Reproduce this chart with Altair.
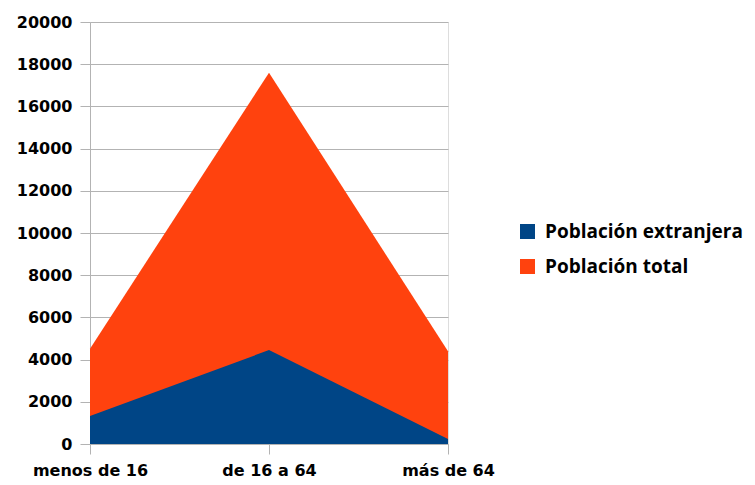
import altair as alt
import pandas as pd

categorias = ["menos de 16", "de 16 a 64", "más de 64"]
poblacion_total = [4520, 17600, 4390]
poblacion_extranjera = [1330, 4450, 240]
series = ["Población extranjera", "Población total"]
colores = ["#004586", "#ff420e"]
y_ticks = list(range(0, 20001, 2000))

rows = []
for c, t, e in zip(categorias, poblacion_total, poblacion_extranjera):
    rows.append({"cat": c, "serie": series[1], "valor": t})
    rows.append({"cat": c, "serie": series[0], "valor": e})
df = pd.DataFrame(rows)

grid = "#b3b3b3"
axfont = "DejaVu Sans"

x = alt.X("cat:N", sort=categorias, title=None,
          scale=alt.Scale(type="point", padding=0),
          axis=alt.Axis(labelAngle=0, labelFont=axfont, labelFontSize=16,
                        labelFontWeight="bold", labelColor="#000000",
                        tickSize=10, tickColor=grid, domainColor=grid,
                        labelPadding=8, grid=False))
y = alt.Y("valor:Q", title=None, stack=None,
          scale=alt.Scale(domain=[0, 20000], nice=False),
          axis=alt.Axis(values=y_ticks, labelFont=axfont, labelFontSize=16,
                        labelFontWeight="bold", labelColor="#000000",
                        tickSize=10, tickColor=grid, domainColor=grid,
                        gridColor=grid, labelPadding=8, format="d"))
color = alt.Color("serie:N", scale=alt.Scale(domain=series, range=colores),
                  legend=alt.Legend(title=None, orient="none", legendX=428, legendY=200,
                                    symbolType="square", symbolSize=225,
                                    symbolStrokeWidth=0, symbolOpacity=1,
                                    labelFont="Open Sans", labelFontSize=19,
                                    labelFontWeight="bold", labelColor="#000000",
                                    labelOffset=8, rowPadding=15, padding=0,
                                    labelLimit=400))

base = alt.Chart(df)
total = base.transform_filter(alt.datum.serie == series[1]).mark_area(opacity=1).encode(
    x=x, y=y, color=color)
ext = base.transform_filter(alt.datum.serie == series[0]).mark_area(opacity=1).encode(
    x=x, y=y, color=color)

chart = alt.layer(total, ext).properties(
    width=358, height=422,
    autosize=alt.AutoSizeParams(type="none"),
    padding={"left": 82, "top": 14, "right": 299, "bottom": 40},
).configure_view(stroke=grid, strokeWidth=1).configure(background="white")

chart.save("out.html", embed_options={"renderer": "svg", "actions": False})
